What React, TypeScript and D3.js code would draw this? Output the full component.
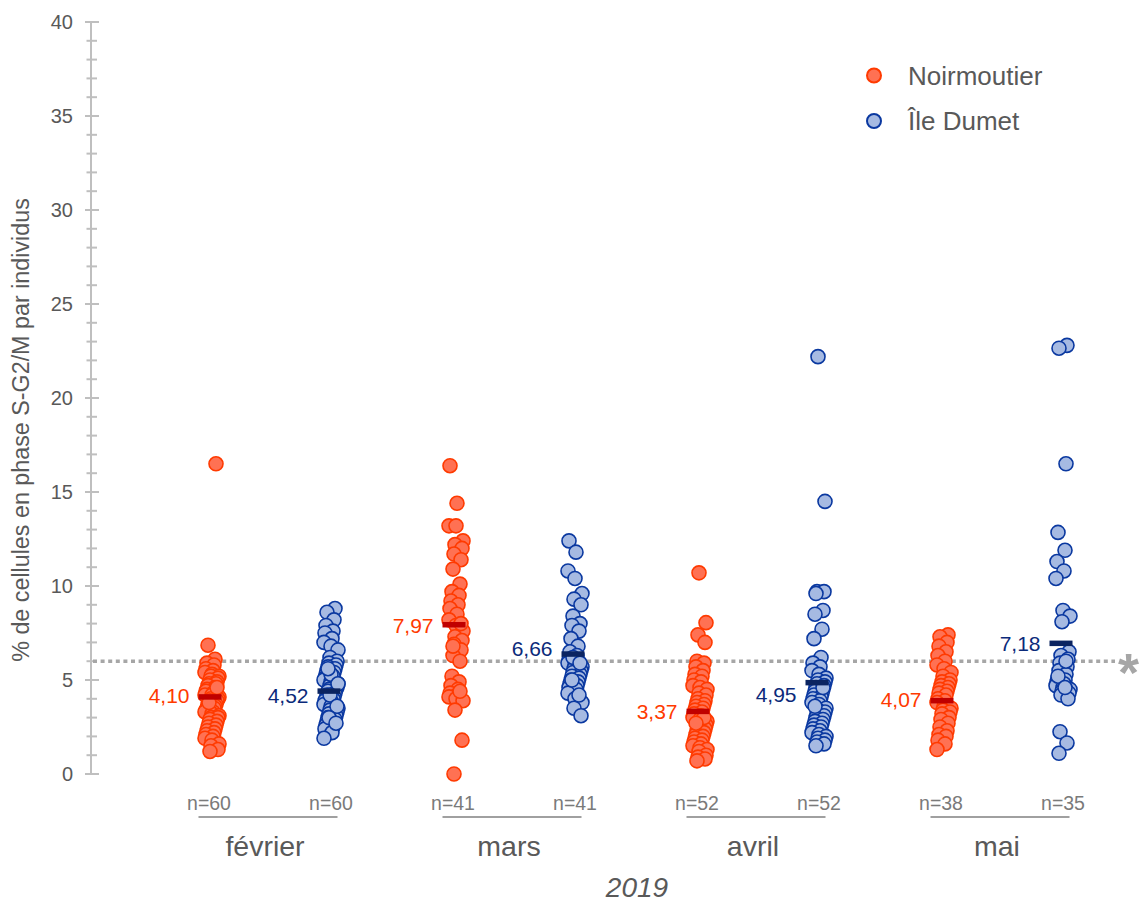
import React from "react";
import * as d3 from "d3";

const months = ["février", "mars", "avril", "mai"];
const seriesNames = ["Noirmoutier", "Île Dumet"];

const fevNoir = [16.5, 6.85, 6.1, 5.9, 5.8, 5.6, 5.5, 5.4, 5.3, 5.2, 5.2, 5.1, 5.0, 4.9, 4.8, 4.8, 4.7, 4.6, 4.5, 4.5, 4.4, 4.3, 4.2, 4.2, 4.1, 4.0, 4.0, 3.9, 3.9, 3.8, 3.7, 3.7, 3.6, 3.5, 3.5, 3.4, 3.3, 3.3, 3.2, 3.1, 3.0, 3.0, 2.9, 2.8, 2.7, 2.6, 2.5, 2.4, 2.3, 2.2, 2.1, 2.0, 1.9, 1.8, 1.6, 1.5, 1.3, 1.2, 4.6, 3.8];
const fevDumet = [8.8, 8.6, 8.2, 7.9, 7.6, 7.5, 7.2, 7.0, 6.8, 6.6, 6.2, 6.0, 5.9, 5.8, 5.7, 5.6, 5.5, 5.4, 5.3, 5.2, 5.1, 5.0, 5.0, 4.9, 4.8, 4.7, 4.6, 4.5, 4.5, 4.4, 4.3, 4.2, 4.1, 4.0, 4.0, 3.9, 3.8, 3.7, 3.6, 3.5, 3.4, 3.3, 3.2, 3.1, 3.0, 2.9, 2.8, 2.7, 2.6, 2.5, 2.4, 2.2, 1.9, 5.3, 4.8, 4.2, 3.6, 3.0, 2.7, 5.6];
const marsNoir = [16.4, 14.4, 13.2, 13.2, 12.4, 12.2, 12.0, 11.7, 11.4, 10.9, 10.1, 9.7, 9.5, 9.2, 9.0, 8.8, 8.5, 8.2, 7.9, 7.6, 7.3, 7.1, 6.9, 6.6, 6.3, 6.0, 5.2, 4.9, 4.7, 4.5, 4.3, 4.2, 4.1, 4.0, 3.9, 3.4, 1.8, 0.0, 8.0, 6.8, 4.4];
const marsDumet = [12.4, 11.8, 10.8, 10.4, 9.6, 9.3, 9.0, 8.4, 8.0, 7.9, 7.6, 7.2, 6.8, 6.5, 6.3, 6.1, 6.0, 5.9, 5.8, 5.7, 5.6, 5.5, 5.4, 5.3, 5.2, 5.1, 5.0, 4.9, 4.8, 4.7, 4.6, 4.5, 4.3, 4.0, 3.8, 3.5, 3.1, 6.2, 5.9, 5.0, 4.2];
const avrilNoir = [10.7, 8.05, 7.4, 7.0, 6.0, 5.9, 5.7, 5.5, 5.3, 5.2, 5.0, 4.9, 4.7, 4.6, 4.5, 4.3, 4.2, 4.0, 3.9, 3.8, 3.7, 3.6, 3.5, 3.4, 3.3, 3.2, 3.1, 3.0, 2.9, 2.8, 2.7, 2.6, 2.5, 2.4, 2.3, 2.2, 2.1, 2.0, 1.9, 1.8, 1.7, 1.6, 1.5, 1.4, 1.3, 1.2, 1.0, 0.9, 0.8, 0.7, 3.0, 2.7];
const avrilDumet = [22.2, 14.5, 9.7, 9.7, 9.6, 8.7, 8.5, 7.7, 7.2, 6.2, 5.9, 5.7, 5.5, 5.3, 5.1, 5.0, 4.9, 4.8, 4.7, 4.6, 4.5, 4.4, 4.3, 4.2, 4.1, 4.0, 3.9, 3.8, 3.7, 3.5, 3.4, 3.3, 3.2, 3.1, 3.0, 2.9, 2.8, 2.7, 2.6, 2.5, 2.4, 2.3, 2.2, 2.1, 2.0, 1.9, 1.8, 1.7, 1.6, 1.5, 4.6, 3.6];
const maiNoir = [7.4, 7.3, 7.0, 6.8, 6.5, 6.3, 6.0, 5.8, 5.6, 5.4, 5.2, 5.0, 4.9, 4.8, 4.7, 4.6, 4.5, 4.4, 4.3, 4.2, 4.0, 3.9, 3.8, 3.6, 3.5, 3.4, 3.3, 3.2, 3.0, 2.9, 2.7, 2.5, 2.3, 2.1, 2.0, 1.8, 1.6, 1.3];
const maiDumet = [22.8, 22.65, 16.5, 12.85, 11.9, 11.3, 10.8, 10.4, 8.7, 8.4, 8.1, 6.5, 6.3, 6.1, 5.9, 5.7, 5.5, 5.3, 5.1, 5.0, 4.9, 4.8, 4.7, 4.6, 4.5, 4.4, 4.3, 4.2, 4.0, 2.25, 1.65, 1.1, 6.0, 5.2, 4.6];

const noirData = [fevNoir, marsNoir, avrilNoir, maiNoir];
const dumetData = [fevDumet, marsDumet, avrilDumet, maiDumet];

const noirMeanValues = [4.1, 7.94, 3.33, 3.9];
const dumetMeanValues = [4.41, 6.38, 4.86, 6.95];
const noirMeanLabels = ["4,10", "7,97", "3,37", "4,07"];
const dumetMeanLabels = ["4,52", "6,66", "4,95", "7,18"];

const yTicks = [0, 5, 10, 15, 20, 25, 30, 35, 40];
const threshold = 6;
const yearLabel = "2019";
const yTitle = "% de cellules en phase S-G2/M par individus";

const W = 1141;
const H = 903;
const FONT = "Liberation Sans, Arial, Helvetica, sans-serif";
const TXT = "#595959";

const noirStyle = { fill: "#FF7153", stroke: "#FF3A00", bar: "#C00000", label: "#FF3A00" };
const dumetStyle = { fill: "#A6BAE2", stroke: "#0A38A0", bar: "#0B2461", label: "#0B2A7A" };

// small layout offsets (pixels), not data
const noirLabelDy = [-1, 1, 0, -1];
const dumetLabelDy = [4, -6, 12, 0];

export default function App() {
  const y = d3.scaleLinear().domain([0, 40]).range([774, 22]);
  const x = d3.scaleBand().domain(months).range([146, 1122]);
  const cx = (m: string) => (x(m) as number) + x.bandwidth() / 2;
  const minor = d3.range(0, 41, 1);

  const jit = (i: number) => ((i * 37 + 11) % 15) - 7;

  const noirPtOff = -56;
  const dumetPtOff = 63;
  const noirBarOff = -58;
  const dumetBarOff = 61;
  const barW = 23;

  const renderPoints = (data: number[][], off: number, st: typeof noirStyle, key: string) =>
    data.map((arr, mi) =>
      arr.map((v, i) => (
        <circle
          key={`${key}-${mi}-${i}`}
          cx={cx(months[mi]) + off + jit(i + mi * 5)}
          cy={y(v)}
          r={7}
          fill={st.fill}
          stroke={st.stroke}
          strokeWidth={1.6}
        />
      ))
    );

  return (
    <svg
      width={W}
      height={H}
      style={{ position: "absolute", left: 0, top: 0, background: "#fff" }}
      fontFamily={FONT}
    >
      {/* y axis */}
      <line x1={91} x2={91} y1={y(40)} y2={y(0)} stroke="#BFBFBF" strokeWidth={2} />
      {minor.map((t) => (
        <line
          key={`mt${t}`}
          x1={t % 5 === 0 ? 85 : 86.5}
          x2={t % 5 === 0 ? 99 : 97}
          y1={y(t)}
          y2={y(t)}
          stroke="#BFBFBF"
          strokeWidth={2}
        />
      ))}
      {yTicks.map((t) => (
        <text key={`yt${t}`} x={73} y={y(t)} dy="0.36em" textAnchor="end" fontSize={20} fill={TXT}>
          {t}
        </text>
      ))}
      <text
        transform={`translate(28.5, 430) rotate(-90)`}
        textAnchor="middle"
        fontSize={23.3}
        fill={TXT}
      >
        {yTitle}
      </text>

      {/* threshold */}
      <line
        x1={93}
        x2={1115}
        y1={y(threshold)}
        y2={y(threshold)}
        stroke="#A6A6A6"
        strokeWidth={3.5}
        strokeDasharray="4 3.6"
      />
      <text
        x={1128.5}
        y={y(threshold) + 30}
        textAnchor="middle"
        fontSize={54}
        fontWeight="bold"
        fill="#A6A6A6"
      >
        *
      </text>

      {/* points */}
      {renderPoints(noirData, noirPtOff, noirStyle, "n")}
      {renderPoints(dumetData, dumetPtOff, dumetStyle, "d")}

      {/* mean bars and labels */}
      {months.map((m, mi) => (
        <g key={`mean${m}`}>
          <rect
            x={cx(m) + noirBarOff - barW / 2}
            y={y(noirMeanValues[mi]) - 2.75}
            width={barW}
            height={5.5}
            fill={noirStyle.bar}
          />
          <text
            x={cx(m) + noirBarOff - barW / 2 - 9}
            y={y(noirMeanValues[mi]) + noirLabelDy[mi]}
            dy="0.36em"
            textAnchor="end"
            fontSize={21}
            fill={noirStyle.label}
          >
            {noirMeanLabels[mi]}
          </text>
          <rect
            x={cx(m) + dumetBarOff - barW / 2}
            y={y(dumetMeanValues[mi]) - 2.75}
            width={barW}
            height={5.5}
            fill={dumetStyle.bar}
          />
          <text
            x={cx(m) + dumetBarOff - barW / 2 - 9}
            y={y(dumetMeanValues[mi]) + dumetLabelDy[mi]}
            dy="0.36em"
            textAnchor="end"
            fontSize={21}
            fill={dumetStyle.label}
          >
            {dumetMeanLabels[mi]}
          </text>
        </g>
      ))}

      {/* x labels */}
      {months.map((m, mi) => (
        <g key={`xl${m}`}>
          <text x={cx(m) - 59} y={810} textAnchor="middle" fontSize={19.5} fill="#7A7A7A">
            {`n=${noirData[mi].length}`}
          </text>
          <text x={cx(m) + 63} y={810} textAnchor="middle" fontSize={19.5} fill="#7A7A7A">
            {`n=${dumetData[mi].length}`}
          </text>
          <line x1={cx(m) - 69.5} x2={cx(m) + 69.5} y1={817} y2={817} stroke="#808080" strokeWidth={1.5} />
          <text x={cx(m) - 3} y={856} textAnchor="middle" fontSize={28.5} fill={TXT}>
            {m}
          </text>
        </g>
      ))}
      <text x={637} y={897} textAnchor="middle" fontSize={28} fontStyle="italic" fill={TXT}>
        {yearLabel}
      </text>

      {/* legend */}
      {seriesNames.map((s, i) => {
        const st = i === 0 ? noirStyle : dumetStyle;
        const ly = 75.5 + i * 45.5;
        return (
          <g key={`lg${s}`}>
            <circle cx={874} cy={ly} r={7} fill={st.fill} stroke={st.stroke} strokeWidth={2} />
            <text x={908} y={ly} dy="0.36em" fontSize={26} fill={TXT}>
              {s}
            </text>
          </g>
        );
      })}
    </svg>
  );
}
